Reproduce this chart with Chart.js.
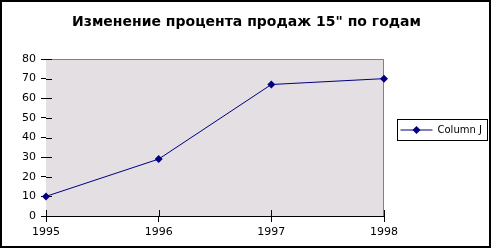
<!DOCTYPE html>
<html>
<head>
<meta charset="utf-8">
<script src="https://cdn.jsdelivr.net/npm/chart.js@4"></script>
<style>
  html, body { margin: 0; padding: 0; background: #ffffff; }
  #wrap { width: 493px; height: 249px; }
</style>
</head>
<body>
<div id="wrap"><canvas id="lineChart" width="493" height="249"></canvas></div>
<script>
/* ===============================
   DATA
=============================== */

const years = ["1995", "1996", "1997", "1998"];

const columnJ = [10, 29, 67, 70];

const yTicks = [0, 10, 20, 30, 40, 50, 60, 70, 80];

const chartTitle = "Изменение процента продаж 15\" по годам";

const seriesLabel = "Column J";

const LINE_COLOR = "#000080";

/* ===============================
   PLUGINS
=============================== */

// plot background, gray top/right edge, inner tick marks
const framePlugin = {
    id: "framePlugin",
    beforeDatasetsDraw(chart) {
        const { ctx, chartArea: a } = chart;
        ctx.save();
        ctx.fillStyle = "#e3dfe3";
        ctx.fillRect(a.left, a.top, a.right - a.left, a.bottom - a.top);

        ctx.strokeStyle = "#808080";
        ctx.lineWidth = 1;
        ctx.beginPath();
        ctx.moveTo(a.left, a.top + 0.5);
        ctx.lineTo(a.right - 0.5, a.top + 0.5);
        ctx.lineTo(a.right - 0.5, a.bottom);
        ctx.stroke();

        // inner halves of the tick marks
        ctx.strokeStyle = "#000000";
        ctx.beginPath();
        const ys = chart.scales.y;
        yTicks.forEach(v => {
            const py = Math.round(ys.getPixelForValue(v)) + 0.5;
            ctx.moveTo(a.left, py);
            ctx.lineTo(a.left + 6, py);
        });
        const xs = chart.scales.x;
        years.forEach((y, i) => {
            const px = Math.round(xs.getPixelForValue(i)) + 0.5;
            ctx.moveTo(px, a.bottom);
            ctx.lineTo(px, a.bottom - 6);
        });
        ctx.stroke();
        ctx.restore();
    },
    // title, legend box and outer frame
    afterDraw(chart) {
        const { ctx } = chart;
        ctx.save();

        ctx.fillStyle = "#000000";
        ctx.font = "bold 14px 'DejaVu Sans'";
        ctx.textAlign = "center";
        ctx.textBaseline = "middle";
        ctx.fillText(chartTitle, 246.5, 22.5);

        const lx = 397.5, ly = 119.5, lw = 90, lh = 21;
        ctx.fillStyle = "#ffffff";
        ctx.fillRect(lx, ly, lw, lh);
        ctx.strokeStyle = "#000000";
        ctx.lineWidth = 1;
        ctx.strokeRect(lx, ly, lw, lh);

        const cy = ly + lh / 2;
        ctx.strokeStyle = LINE_COLOR;
        ctx.beginPath();
        ctx.moveTo(lx + 3, cy);
        ctx.lineTo(lx + 35, cy);
        ctx.stroke();

        ctx.fillStyle = LINE_COLOR;
        ctx.beginPath();
        ctx.moveTo(lx + 19, cy - 4);
        ctx.lineTo(lx + 23, cy);
        ctx.lineTo(lx + 19, cy + 4);
        ctx.lineTo(lx + 15, cy);
        ctx.closePath();
        ctx.fill();

        ctx.fillStyle = "#000000";
        ctx.font = "10px 'DejaVu Sans'";
        ctx.textAlign = "left";
        ctx.fillText(seriesLabel, lx + 40, cy + 0.5);

        ctx.strokeStyle = "#000000";
        ctx.lineWidth = 2;
        ctx.strokeRect(1, 1, 489, 246);
        ctx.restore();
    }
};

/* ===============================
   CHART
=============================== */

const canvas = document.getElementById("lineChart");

const lineChart = new Chart(canvas, {

    type: "line",

    data: {
        labels: years,
        datasets: [
            {
                label: seriesLabel,
                data: columnJ,
                borderColor: LINE_COLOR,
                backgroundColor: LINE_COLOR,
                borderWidth: 1,
                tension: 0,
                pointStyle: "rectRot",
                pointRadius: 4,
                pointBorderWidth: 0,
                pointBackgroundColor: LINE_COLOR
            }
        ]
    },

    options: {
        responsive: false,
        animation: false,
        devicePixelRatio: 1,
        layout: {
            padding: { top: 59, right: 109, bottom: 0, left: 0 }
        },
        plugins: {
            legend: { display: false },
            tooltip: { enabled: false },
            title: { display: false }
        },
        scales: {
            x: {
                offset: false,
                grid: {
                    display: true,
                    drawOnChartArea: false,
                    drawTicks: true,
                    tickLength: 6,
                    color: "#000000"
                },
                border: { display: true, color: "#000000" },
                ticks: {
                    color: "#000000",
                    padding: 4,
                    maxRotation: 0,
                    font: { family: "'DejaVu Sans'", size: 11 }
                },
                afterFit(scale) { scale.height = 33; }
            },
            y: {
                min: 0,
                max: 80,
                grid: {
                    display: true,
                    drawOnChartArea: false,
                    drawTicks: true,
                    tickLength: 5,
                    color: "#000000"
                },
                border: { display: true, color: "#000000" },
                ticks: {
                    stepSize: 10,
                    color: "#000000",
                    padding: 5,
                    font: { family: "'DejaVu Sans'", size: 11 }
                },
                afterFit(scale) { scale.width = 46; }
            }
        }
    },

    plugins: [framePlugin]
});
</script>
</body>
</html>
